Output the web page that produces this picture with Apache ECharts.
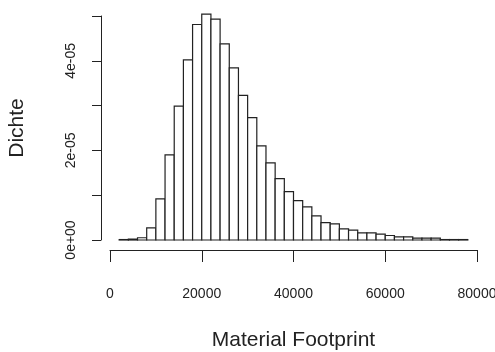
<!DOCTYPE html>
<html>
<head>
<meta charset="utf-8">
<script src="https://cdn.jsdelivr.net/npm/echarts@6/dist/echarts.min.js"></script>
<style>
  html, body { margin: 0; padding: 0; background: #fff; }
  #chart { width: 495px; height: 352px; }
</style>
</head>
<body>
<div id="chart"></div>
<script>
// histogram breaks (bin edges) and densities
const breaks = [2000, 4000, 6000, 8000, 10000, 12000, 14000, 16000, 18000, 20000,
  22000, 24000, 26000, 28000, 30000, 32000, 34000, 36000, 38000, 40000,
  42000, 44000, 46000, 48000, 50000, 52000, 54000, 56000, 58000, 60000,
  62000, 64000, 66000, 68000, 70000, 72000, 74000, 76000, 78000];
const density = [1e-7, 2e-7, 5e-7, 2.7e-6, 9.2e-6, 1.90e-5, 2.99e-5, 4.02e-5, 4.81e-5, 5.04e-5,
  4.93e-5, 4.38e-5, 3.84e-5, 3.23e-5, 2.73e-5, 2.10e-5, 1.72e-5, 1.37e-5, 1.08e-5, 8.8e-6,
  7.4e-6, 5.4e-6, 3.9e-6, 3.6e-6, 2.5e-6, 2.2e-6, 1.6e-6, 1.6e-6, 1.3e-6, 1.0e-6,
  7e-7, 7e-7, 4e-7, 4e-7, 4e-7, 1e-7, 1e-7, 1e-7];
const xTicks = [0, 20000, 40000, 60000, 80000];
const yTicks = [0, 1e-5, 2e-5, 3e-5, 4e-5, 5e-5];
const yTickLabels = ['0e+00', '', '2e-05', '', '4e-05', ''];

const bins = density.map((d, i) => [breaks[i], breaks[i + 1], d]);

const font = 'Liberation Sans, Arial, sans-serif';
const chart = echarts.init(document.getElementById('chart'));
chart.setOption({
  animation: false,
  grid: { left: 110, right: 18, top: 16, bottom: 112, outerBoundsMode: 'none', containLabel: false },
  xAxis: {
    type: 'value',
    min: xTicks[0],
    max: xTicks[xTicks.length - 1],
    interval: xTicks[1] - xTicks[0],
    offset: 10,
    name: 'Material Footprint',
    nameLocation: 'middle',
    nameGap: 80,
    nameTextStyle: { fontFamily: font, fontSize: 21, color: '#222' },
    axisLine: { show: true, onZero: false, lineStyle: { color: '#222', width: 1 } },
    axisTick: { show: true, length: 12, lineStyle: { color: '#222' } },
    axisLabel: { fontFamily: font, fontSize: 14, color: '#222', margin: 37,
      formatter: v => String(v) },
    splitLine: { show: false }
  },
  yAxis: {
    type: 'value',
    min: yTicks[0],
    max: yTicks[yTicks.length - 1],
    interval: 1e-5,
    offset: 9,
    name: 'Dichte',
    nameLocation: 'middle',
    nameGap: 73,
    nameRotate: 90,
    nameTextStyle: { fontFamily: font, fontSize: 21, color: '#222' },
    axisLine: { show: true, onZero: false, lineStyle: { color: '#222', width: 1 } },
    axisTick: { show: true, length: 9, lineStyle: { color: '#222' } },
    axisLabel: {
      rotate: 90,
      fontFamily: font, fontSize: 14, color: '#222', margin: 23,
      formatter: v => yTickLabels[Math.round(v / 1e-5)] || ''
    },
    splitLine: { show: false }
  },
  series: [{
    type: 'custom',
    clip: false,
    data: bins,
    renderItem: (params, api) => {
      const top = api.coord([api.value(0), api.value(2)]);
      const bot = api.coord([api.value(1), 0]);
      return {
        type: 'rect',
        shape: { x: top[0], y: top[1], width: bot[0] - top[0], height: bot[1] - top[1] },
        style: { fill: '#fff', stroke: '#222', lineWidth: 1.2 }
      };
    }
  }]
});
</script>
</body>
</html>
